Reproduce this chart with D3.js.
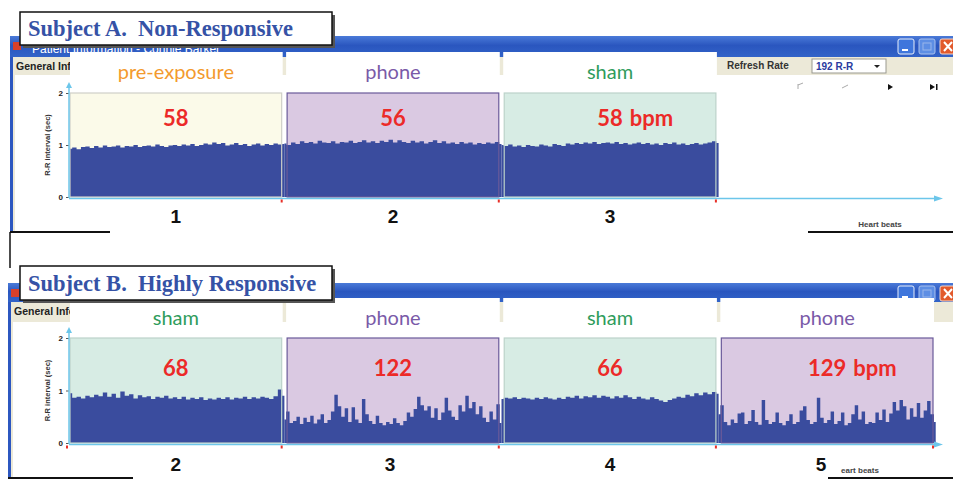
<!DOCTYPE html>
<html>
<head>
<meta charset="utf-8">
<script src="https://cdn.jsdelivr.net/npm/d3@7"></script>
<style>
  body { margin: 0; background: #fff; }
  svg { display: block; }
</style>
</head>
<body>
<div id="graph"></div>
<script>
// ---- data ----
const yTicks = [0, 1, 2];

const conditionsA = ["pre-exposure", "phone", "sham"];
const bpmA = ["58", "56", "58"];
const bpmUnitA = ["", "", "bpm"];
const exposureA = ["1", "2", "3"];

const conditionsB = ["sham", "phone", "sham", "phone"];
const bpmB = ["68", "122", "66", "129"];
const bpmUnitB = ["", "", "", "bpm"];
const exposureB = ["2", "3", "4", "5"];

// R-R interval (sec), one value per plotted beat group
const rrA1 = [0.93,0.95,0.92,0.96,0.97,0.94,0.98,0.95,0.99,0.96,0.97,0.99,0.95,0.98,0.97,1.00,0.96,0.98,0.99,0.97,1.01,0.98,0.96,0.99,1.00,0.98,1.01,0.99,1.02,0.98,1.00,1.03,1.01,1.05,1.02,1.04,0.99,1.01,1.04,1.00,1.02,0.98,1.01,1.03,0.99,1.02,1.00,1.03,1.01,1.02];
const rrA2 = [1.03,1.00,1.05,1.02,1.07,1.04,1.06,1.03,1.08,1.05,1.04,1.07,1.03,1.06,1.05,1.08,1.04,1.06,1.09,1.05,1.07,1.04,1.08,1.06,1.10,1.05,1.09,1.06,1.04,1.08,1.05,1.07,1.03,1.06,1.09,1.04,1.07,1.03,1.05,1.02,1.06,1.03,1.05,1.01,1.04,1.02,1.05,1.03,1.06,1.02];
const rrA3 = [1.00,0.98,1.01,0.97,0.99,0.96,1.00,0.98,0.97,1.01,0.99,0.97,1.02,1.00,0.98,1.03,1.01,1.04,1.02,1.05,1.03,1.06,1.02,1.04,1.05,1.03,1.06,1.02,1.04,1.01,1.03,1.05,1.02,1.04,1.01,1.03,1.00,1.04,1.02,1.05,1.01,1.03,1.00,1.02,1.04,1.01,1.03,1.05,1.07,1.04];

const rrB1 = [0.95,0.86,0.88,0.85,0.90,0.87,0.92,0.89,0.96,0.88,0.94,0.86,0.98,0.90,0.93,0.85,0.91,0.87,0.89,0.84,0.88,0.86,0.90,0.85,0.87,0.84,0.88,0.83,0.86,0.84,0.87,0.82,0.85,0.83,0.86,0.84,0.87,0.83,0.86,0.85,0.88,0.84,0.87,0.85,0.88,0.86,0.84,0.89,1.02,0.90];
const rrB2 = [0.45,0.60,0.38,0.42,0.50,0.36,0.48,0.40,0.52,0.37,0.45,0.55,0.38,0.44,0.60,0.92,0.70,0.50,0.66,0.40,0.68,0.45,0.38,0.84,0.55,0.42,0.36,0.52,0.38,0.34,0.40,0.36,0.47,0.38,0.34,0.42,0.58,0.50,0.65,0.88,0.72,0.62,0.70,0.48,0.66,0.44,0.58,0.86,0.62,0.50,0.44,0.72,0.60,0.90,0.66,0.78,0.55,0.70,0.48,0.40,0.60,0.45,0.74,0.38];
const rrB3 = [0.84,0.86,0.85,0.87,0.84,0.86,0.85,0.83,0.86,0.84,0.87,0.85,0.83,0.86,0.84,0.88,0.86,0.90,0.85,0.89,0.87,0.91,0.86,0.90,0.88,0.85,0.89,0.86,0.91,0.87,0.84,0.88,0.85,0.83,0.87,0.84,0.81,0.78,0.82,0.85,0.88,0.86,0.92,0.89,0.95,0.91,0.96,0.93,0.97,0.94];
const rrB4 = [0.55,0.72,0.40,0.34,0.45,0.38,0.56,0.58,0.36,0.42,0.63,0.40,0.35,0.82,0.44,0.36,0.40,0.58,0.38,0.34,0.42,0.55,0.36,0.40,0.62,0.70,0.44,0.36,0.40,0.86,0.48,0.38,0.44,0.60,0.36,0.42,0.58,0.34,0.38,0.55,0.72,0.45,0.60,0.36,0.40,0.38,0.58,0.44,0.64,0.40,0.56,0.78,0.62,0.82,0.70,0.45,0.66,0.50,0.76,0.48,0.62,0.80,0.55,0.40];

const rrA = [rrA1, rrA2, rrA3];
const rrB = [rrB1, rrB2, rrB3, rrB4];

// ---- layout ----
const width = 953;
const height = 480;

const condColor = {
  "pre-exposure": "#f39a2e",
  "phone": "#7a5aa8",
  "sham": "#2f9c5c"
};
const panelFill = {
  "pre-exposure": "#fbfae9",
  "phone": "#dac9e2",
  "sham": "#d7ece4"
};
const panelStroke = {
  "pre-exposure": "#cfcfc8",
  "phone": "#6a5a9a",
  "sham": "#bcd2ca"
};

const svg = d3.select("#graph").append("svg")
  .attr("width", width)
  .attr("height", height)
  .attr("viewBox", `0 0 ${width} ${height}`);

const defs = svg.append("defs");
const grad = defs.append("linearGradient")
  .attr("id", "xpbar").attr("x1", 0).attr("y1", 0).attr("x2", 0).attr("y2", 1);
grad.append("stop").attr("offset", "0%").attr("stop-color", "#4a7ad8");
grad.append("stop").attr("offset", "45%").attr("stop-color", "#2a56bf");
grad.append("stop").attr("offset", "100%").attr("stop-color", "#3263c8");

const xBand = d3.scaleBand()
  .domain([0, 1, 2, 3])
  .range([70, 933])
  .paddingInner(0.025);

function drawSubject(o) {
  const g = svg.append("g");
  const y = d3.scaleLinear().domain([0, 2]).range([o.plotBottom, o.plotTop]);
  const bw = xBand.bandwidth();
  const gap = xBand.step() - bw;

  // window title bar
  g.append("rect")
    .attr("x", o.winLeft).attr("y", o.barTop)
    .attr("width", width - o.winLeft).attr("height", o.barH)
    .attr("fill", "url(#xpbar)");
  if (o.barText) {
    g.append("text")
      .attr("x", o.winLeft + 22).attr("y", o.barTop + o.barH - 4)
      .attr("fill", "#ffffff").attr("font-family", "Liberation Sans, Arial, sans-serif")
      .attr("font-size", 12)
      .text(o.barText);
  }
  g.append("rect")
    .attr("x", o.winLeft + 3).attr("y", o.barTop + 6)
    .attr("width", 8).attr("height", 8).attr("fill", "#d8402a");

  // window buttons
  const btnY = o.barTop + 3;
  g.append("rect").attr("x", 898).attr("y", btnY).attr("width", 16).attr("height", 15).attr("rx", 2)
    .attr("fill", "#3f76dc").attr("stroke", "#e8eefa").attr("stroke-width", 1);
  g.append("rect").attr("x", 902).attr("y", btnY + 10).attr("width", 6).attr("height", 2).attr("fill", "#fff");
  g.append("rect").attr("x", 919).attr("y", btnY).attr("width", 16).attr("height", 15).attr("rx", 2)
    .attr("fill", "#5d8ee4").attr("stroke", "#a9c1ee").attr("stroke-width", 1);
  g.append("rect").attr("x", 923).attr("y", btnY + 4).attr("width", 8).attr("height", 7)
    .attr("fill", "none").attr("stroke", "#9ab6ea");
  g.append("rect").attr("x", 940).attr("y", btnY).attr("width", 16).attr("height", 15).attr("rx", 2)
    .attr("fill", "#e25a2c").attr("stroke", "#f3d6c8").attr("stroke-width", 1);
  g.append("path").attr("d", `M944,${btnY + 3}L952,${btnY + 12}M952,${btnY + 3}L944,${btnY + 12}`)
    .attr("stroke", "#fff").attr("stroke-width", 2);

  // window left border
  g.append("rect")
    .attr("x", o.winLeft).attr("y", o.barTop + o.barH)
    .attr("width", 3).attr("height", o.winBottom - o.barTop - o.barH)
    .attr("fill", "#2c57c0");
  g.append("rect")
    .attr("x", o.winLeft + 3).attr("y", o.barTop + o.barH)
    .attr("width", 2).attr("height", o.winBottom - o.barTop - o.barH)
    .attr("fill", "#ece9d8");

  // toolbar strip
  g.append("rect")
    .attr("x", o.winLeft + 5).attr("y", o.toolTop)
    .attr("width", width - o.winLeft - 5).attr("height", o.toolH)
    .attr("fill", "#ece9d8");
  g.append("text")
    .attr("x", o.winLeft + 6).attr("y", o.toolTop + 13)
    .attr("font-family", "Liberation Sans, Arial, sans-serif").attr("font-weight", "bold")
    .attr("font-size", 10.5).attr("fill", "#222")
    .text("General Information");

  if (o.refresh) {
    g.append("text")
      .attr("x", 727).attr("y", o.toolTop + 12)
      .attr("font-family", "Liberation Sans, Arial, sans-serif").attr("font-weight", "bold")
      .attr("font-size", 10).attr("fill", "#333")
      .text("Refresh Rate");
    g.append("rect")
      .attr("x", 812).attr("y", o.toolTop + 2).attr("width", 74).attr("height", 14)
      .attr("fill", "#fff").attr("stroke", "#9a9a90");
    g.append("text")
      .attr("x", 816).attr("y", o.toolTop + 13)
      .attr("font-family", "Liberation Sans, Arial, sans-serif").attr("font-weight", "bold")
      .attr("font-size", 10).attr("fill", "#2a3aa0")
      .text("192 R-R");
    g.append("path").attr("d", `M874,${o.toolTop + 8}h6l-3,3z`).attr("fill", "#222");
    // player icons
    const iy = o.plotTop - 6;
    g.append("path").attr("d", `M798,${iy - 3}v5M798,${iy - 2}l5,-2`).attr("stroke", "#aaa").attr("fill", "none");
    g.append("path").attr("d", `M842,${iy + 1}l6,-3`).attr("stroke", "#aaa").attr("fill", "none");
    g.append("path").attr("d", `M888,${iy - 3}l5,3l-5,3z`).attr("fill", "#111");
    g.append("path").attr("d", `M930,${iy - 3}l5,3l-5,3z`).attr("fill", "#111");
    g.append("rect").attr("x", 936).attr("y", iy - 3).attr("width", 1.5).attr("height", 6).attr("fill", "#111");
  }

  // condition label boxes
  const n = o.conditions.length;
  const idx = d3.range(n);
  g.selectAll(".labelbox").data(idx).enter().append("rect")
    .attr("x", i => xBand(i) - (i === 0 ? 0 : 1))
    .attr("y", o.labelTop)
    .attr("width", i => bw + (i === 0 ? 1 : 2))
    .attr("height", o.plotTop - o.labelTop - 2)
    .attr("fill", "#fff");
  g.selectAll(".cond").data(idx).enter().append("text")
    .attr("x", i => xBand(i) + bw / 2)
    .attr("y", o.labelTop + 27)
    .attr("text-anchor", "middle")
    .attr("font-family", "Lato, 'Open Sans', sans-serif")
    .attr("font-size", 20)
    .attr("fill", i => condColor[o.conditions[i]])
    .text(i => o.conditions[i]);

  // panels
  g.selectAll(".panel").data(idx).enter().append("rect")
    .attr("x", i => xBand(i)).attr("y", y(2))
    .attr("width", bw).attr("height", y(0) - y(2))
    .attr("fill", i => panelFill[o.conditions[i]]);

  // R-R area per segment
  idx.forEach(i => {
    const seg = o.rr[i];
    const x0 = xBand(i) - (i === 0 ? 0 : gap / 2);
    const x1 = xBand(i) + bw + gap / 2;
    const xs = d3.scaleLinear().domain([0, seg.length - 1]).range([x0, x1]);
    const area = d3.area()
      .curve(d3.curveStep)
      .x((d, j) => xs(j))
      .y0(y(0))
      .y1(d => y(d));
    g.append("path")
      .datum(seg)
      .attr("d", area)
      .attr("fill", "#3a4c9e");
  });

  g.selectAll(".panelborder").data(idx).enter().append("rect")
    .attr("x", i => xBand(i)).attr("y", y(2))
    .attr("width", bw).attr("height", y(0) - y(2))
    .attr("fill", "none")
    .attr("stroke", i => panelStroke[o.conditions[i]])
    .attr("stroke-width", 1.2);

  // bpm labels
  idx.forEach(i => {
    const cx = xBand(i) + bw / 2;
    const t = g.append("text")
      .attr("x", cx).attr("y", y(o.bpmAt))
      .attr("text-anchor", "middle")
      .attr("font-family", "Lato, 'Open Sans', sans-serif")
      .attr("font-weight", "bold").attr("font-size", 22)
      .attr("fill", "#ec2a28")
      .text(o.bpm[i]);
    if (o.unit[i]) {
      const w = t.node().getComputedTextLength();
      g.append("text")
        .attr("x", cx + w / 2 + 7).attr("y", y(o.bpmAt))
        .attr("font-family", "Lato, 'Open Sans', sans-serif")
        .attr("font-weight", "bold").attr("font-size", 22)
        .attr("fill", "#ec2a28")
        .text(o.unit[i]);
    }
  });

  // y axis
  const axisX = xBand(0) - 1;
  const yAxis = d3.axisLeft(y).tickValues(yTicks).tickSize(3).tickFormat(d3.format("d"));
  const ax = g.append("g")
    .attr("transform", `translate(${axisX},0)`)
    .call(yAxis);
  ax.select(".domain").remove();
  ax.selectAll(".tick line").attr("stroke", "#555");
  ax.selectAll(".tick text")
    .attr("font-family", "Liberation Sans, Arial, sans-serif")
    .attr("font-weight", "bold").attr("font-size", 8).attr("fill", "#222");
  g.append("line")
    .attr("x1", axisX).attr("x2", axisX)
    .attr("y1", y(0) + 1).attr("y2", y(2) - 8)
    .attr("stroke", "#6cc6ea").attr("stroke-width", 1.5);
  g.append("path")
    .attr("d", `M${axisX - 3},${y(2) - 5}L${axisX},${y(2) - 11}L${axisX + 3},${y(2) - 5}z`)
    .attr("fill", "#6cc6ea");
  g.append("text")
    .attr("transform", `translate(${axisX - 19},${(y(0) + y(2)) / 2}) rotate(-90)`)
    .attr("text-anchor", "middle")
    .attr("font-family", "Liberation Sans, Arial, sans-serif")
    .attr("font-weight", "bold").attr("font-size", 7.5).attr("fill", "#333")
    .text("R-R interval (sec)");

  // x axis
  const axY = y(0) + 1.5;
  g.append("line")
    .attr("x1", axisX).attr("x2", 938)
    .attr("y1", axY).attr("y2", axY)
    .attr("stroke", "#6cc6ea").attr("stroke-width", 1.5);
  g.append("path")
    .attr("d", `M934,${axY - 3}L943,${axY}L934,${axY + 3}z`)
    .attr("fill", "#6cc6ea");

  // red segment markers
  const marks = idx.map(i => xBand(i) + bw);
  if (o.startMark) marks.unshift(axisX - 2);
  g.selectAll(".mark").data(marks).enter().append("rect")
    .attr("x", d => d - 1).attr("y", axY + 1)
    .attr("width", 2).attr("height", 3)
    .attr("fill", "#e83028");

  // exposure numbers
  g.selectAll(".expo").data(idx).enter().append("text")
    .attr("x", i => xBand(i) + bw / 2 + (o.numShift ? o.numShift[i] : 0))
    .attr("y", o.numY)
    .attr("text-anchor", "middle")
    .attr("font-family", "Liberation Sans, Arial, sans-serif")
    .attr("font-weight", "bold").attr("font-size", 19).attr("fill", "#111")
    .text(i => o.exposure[i]);

  // beats caption & frame lines
  g.append("text")
    .attr("x", o.beatsX).attr("y", o.beatsY)
    .attr("text-anchor", "middle")
    .attr("font-family", "Liberation Sans, Arial, sans-serif")
    .attr("font-weight", "bold").attr("font-size", 8).attr("fill", "#444")
    .text(o.beatsText);
  g.append("line")
    .attr("x1", o.winLeft).attr("x2", o.leftLineEnd)
    .attr("y1", o.winBottom).attr("y2", o.winBottom)
    .attr("stroke", "#111").attr("stroke-width", 2);
  g.append("line")
    .attr("x1", o.rightLineStart).attr("x2", width)
    .attr("y1", o.winBottom).attr("y2", o.winBottom)
    .attr("stroke", "#111").attr("stroke-width", 2);

  // title box
  g.append("rect")
    .attr("x", 23).attr("y", o.titleTop + 3)
    .attr("width", 312).attr("height", o.titleH)
    .attr("fill", "#555");
  g.append("rect")
    .attr("x", 20).attr("y", o.titleTop)
    .attr("width", 312).attr("height", o.titleH)
    .attr("fill", "#fff").attr("stroke", "#111").attr("stroke-width", 1.5);
  g.append("text")
    .attr("x", 28).attr("y", o.titleTop + o.titleH - 9)
    .attr("font-family", "Liberation Serif, 'Times New Roman', serif")
    .attr("font-weight", "bold").attr("font-size", 22.5)
    .attr("fill", "#3552a6")
    .attr("xml:space", "preserve")
    .style("white-space", "pre")
    .text(o.title);
}

drawSubject({
  title: "Subject A.  Non-Responsive",
  titleTop: 12, titleH: 33,
  winLeft: 10, barTop: 36, barH: 21, toolTop: 57, toolH: 18,
  barText: "Patient Information - Connie Barker",
  winBottom: 232, leftLineEnd: 110, rightLineStart: 808,
  labelTop: 52, plotTop: 93, plotBottom: 197, bpmAt: 1.36,
  conditions: conditionsA, bpm: bpmA, unit: bpmUnitA, exposure: exposureA, rr: rrA,
  numY: 223, beatsX: 880, beatsY: 227, beatsText: "Heart beats",
  refresh: true, startMark: false
});

drawSubject({
  title: "Subject B.  Highly Responsive",
  titleTop: 266, titleH: 34,
  winLeft: 8, barTop: 283, barH: 19, toolTop: 302, toolH: 20,
  barText: null,
  winBottom: 478, leftLineEnd: 133, rightLineStart: 828,
  labelTop: 298, plotTop: 338, plotBottom: 443, bpmAt: 1.28,
  conditions: conditionsB, bpm: bpmB, unit: bpmUnitB, exposure: exposureB, rr: rrB,
  numY: 471, beatsX: 860, beatsY: 473, beatsText: "eart beats",
  numShift: [0, -3, 0, -6],
  refresh: false, startMark: true
});

// connector between the two windows on the left
svg.append("line")
  .attr("x1", 10).attr("x2", 10)
  .attr("y1", 232).attr("y2", 268)
  .attr("stroke", "#111").attr("stroke-width", 1.5);
</script>
</body>
</html>
